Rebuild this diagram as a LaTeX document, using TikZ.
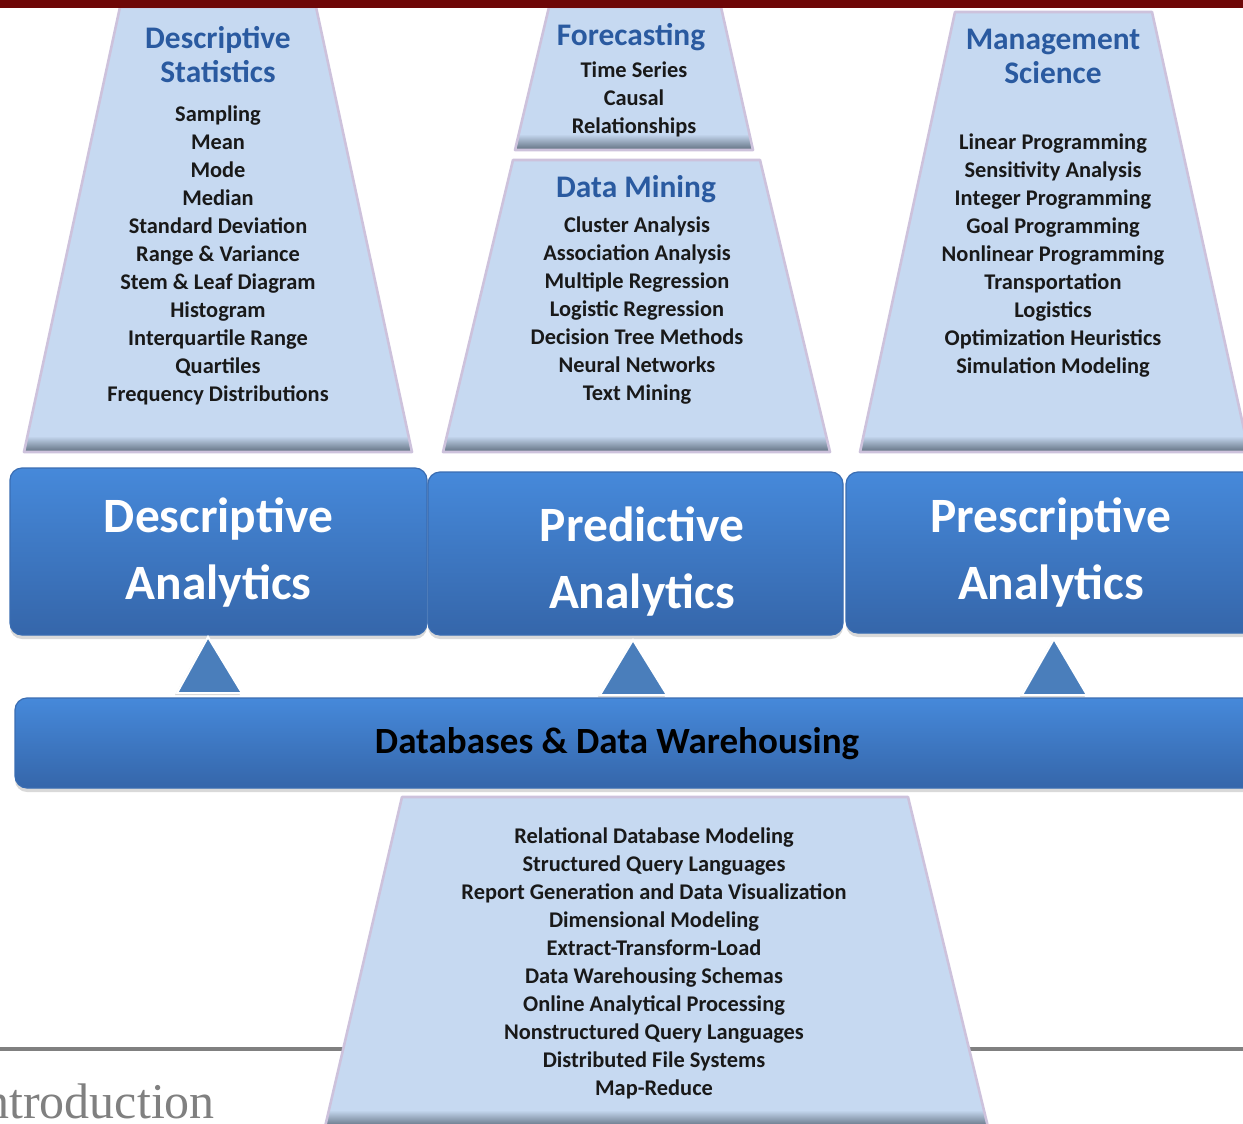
\documentclass[tikz,border=0pt]{standalone}
\usepackage{fontspec}
\setmainfont{Carlito}
\newfontfamily\introfont{Liberation Serif}
\usetikzlibrary{shadows}
\definecolor{topbar}{HTML}{6E0707}
\definecolor{trapfill}{HTML}{C6D9F1}
\definecolor{trapedge}{HTML}{CDC2DC}
\definecolor{bevelc}{HTML}{5A6878}
\definecolor{headblue}{HTML}{2A5AA0}
\definecolor{boxtop}{HTML}{4689DA}
\definecolor{boxbot}{HTML}{3566AA}
\definecolor{boxedge}{HTML}{3A6DB2}
\definecolor{trifill}{HTML}{4A7EBB}
\definecolor{rulegray}{HTML}{808080}
\newcommand\trapez[6]{%
  \begin{scope}
    \clip #1 -- #2 -- #3 -- #4 -- cycle;
    \fill[trapfill] #1 -- #2 -- #3 -- #4 -- cycle;
    \shade[top color=trapfill, bottom color=bevelc] (0,#5) rectangle (1300,#6);
  \end{scope}
  \draw[trapedge, line width=1.3pt, line join=round] #1 -- #2 -- #3 -- #4 -- cycle;
}
\tikzset{
  anbox/.style={rounded corners=6pt, top color=boxtop, bottom color=boxbot,
    draw=boxedge, line width=0.6pt,
    drop shadow={opacity=0.3, shadow xshift=0pt, shadow yshift=-2pt},
    inner sep=0pt},
  antext/.style={text=white, font=\fontsize{24.7}{33.5}\selectfont\bfseries,
    align=center, inner sep=0pt},
  dbtext/.style={text=black, font=\fontsize{18.5}{20}\selectfont\bfseries, inner sep=0pt},
  items/.style={font=\fontsize{11.2}{14}\selectfont\bfseries, text=black!90, align=center, inner sep=0pt},
  head/.style={font=\fontsize{15.7}{17}\selectfont\bfseries, text=headblue,
    align=center, inner sep=0pt},
  tri/.style={fill=trifill, draw=white, line width=1pt, line join=miter,
    drop shadow={opacity=0.35, shadow xshift=-1pt, shadow yshift=-1pt}},
}
\begin{document}
\begin{tikzpicture}[x=0.5pt,y=-0.5pt]
  \useasboundingbox (0,0) rectangle (1243,1124);
  \clip (0,0) rectangle (1243,1124);

  % gray rule behind bottom trapezoid
  \draw[rulegray, line width=2pt] (0,1049) -- (1243,1049);

  % trapezoids
  \trapez{(120,7)}{(316,7)}{(412,452)}{(24,452)}{436}{453}
  \trapez{(549,7)}{(721,7)}{(753,150)}{(515,150)}{134}{151}
  \trapez{(513,160)}{(760,160)}{(830,452)}{(443,452)}{436}{453}
  \trapez{(955,12)}{(1152,12)}{(1249,452)}{(860,452)}{436}{453}
  \trapez{(402,797)}{(908,797)}{(988,1127)}{(325,1127)}{1110}{1128}

  % top bar
  \fill[topbar] (0,0) rectangle (1243,8);

  % headings
  \node[head] (hds) at (218,55) {Descriptive\\Statistics};
  \node[head] (hfc) at (631,37) {Forecasting};
  \node[head] (hdm) at (636,189) {Data Mining};
  \node[head] (hms) at (1053,56) {Management\\Science};

  % lists
  \node[items] (lds) at (218,255) {Sampling\\Mean\\Mode\\Median\\Standard Deviation\\Range \& Variance\\Stem \& Leaf Diagram\\Histogram\\Interquartile Range\\Quartiles\\Frequency Distributions};
  \node[items] (lfc) at (634,99) {Time Series\\Causal\\Relationships};
  \node[items] (ldm) at (637,311) {Cluster Analysis\\Association Analysis\\Multiple Regression\\Logistic Regression\\Decision Tree Methods\\Neural Networks\\Text Mining};
  \node[items] (lms) at (1053,256) {Linear Programming\\Sensitivity Analysis\\Integer Programming\\Goal Programming\\Nonlinear Programming\\Transportation\\Logistics\\Optimization Heuristics\\Simulation Modeling};
  \node[items] (ldb) at (654,963) {Relational Database Modeling\\Structured Query Languages\\Report Generation and Data Visualization\\Dimensional Modeling\\Extract-Transform-Load\\Data Warehousing Schemas\\Online Analytical Processing\\Nonstructured Query Languages\\Distributed File Systems\\Map-Reduce};

  % analytics boxes
  \node[anbox, minimum width=208.5pt, minimum height=83.5pt] (bdesc) at (218.5,551.5) {};
  \node[anbox, minimum width=207.5pt, minimum height=81.5pt] (bpred) at (635.5,553.5) {};
  \node[anbox, minimum width=207.5pt, minimum height=80.5pt] (bpres) at (1053.5,552.5) {};
  \node[antext] (tdesc) at (218.5,553) {Descriptive\\Analytics};
  \node[antext] (tpred) at (642,562) {Predictive\\Analytics};
  \node[antext] (tpres) at (1051,553) {Prescriptive\\Analytics};

  % database bar
  \node[anbox, minimum width=620pt, minimum height=45pt] (bdb) at (635,743) {};
  \node[dbtext] (tdb) at (617,744) {Databases \& Data Warehousing};

  % triangles
  \coordinate (a1) at (208,637); \coordinate (l1) at (177,693); \coordinate (r1) at (242,693);
  \coordinate (a2) at (633,640); \coordinate (l2) at (600,695); \coordinate (r2) at (667,695);
  \coordinate (a3) at (1054,639); \coordinate (l3) at (1022,695); \coordinate (r3) at (1087,695);
  \filldraw[tri] (a1) -- (r1) -- (l1) -- cycle;
  \filldraw[tri] (a2) -- (r2) -- (l2) -- cycle;
  \filldraw[tri] (a3) -- (r3) -- (l3) -- cycle;

  % footer text
  \node[anchor=base west, font=\introfont\fontsize{25}{25}\selectfont, text=rulegray, inner sep=0pt] (intro) at (-16,1118) {ntroduction};
\end{tikzpicture}
\end{document}
